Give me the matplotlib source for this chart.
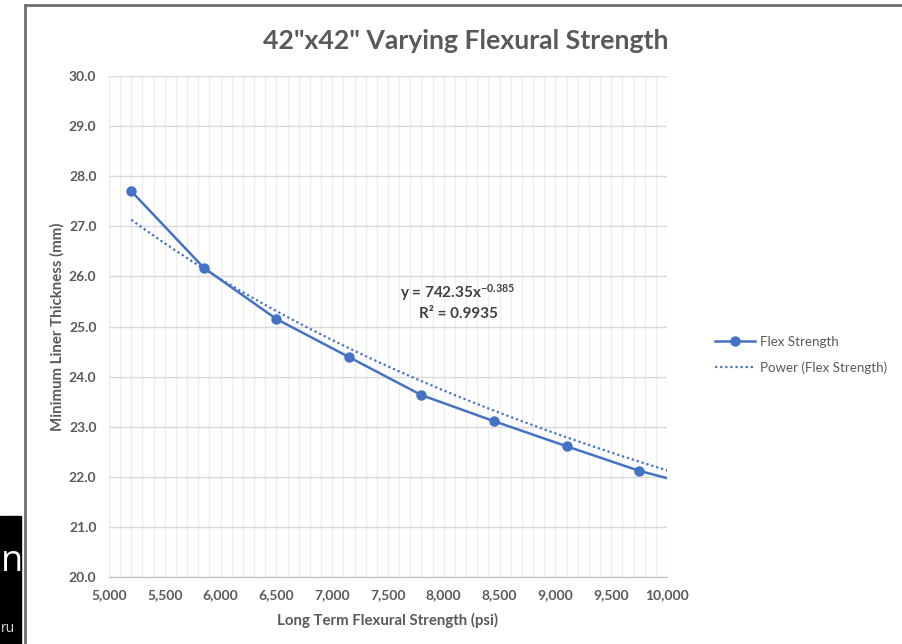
import matplotlib.pyplot as plt
import numpy as np
from matplotlib.patches import Rectangle
from matplotlib.lines import Line2D
from matplotlib.ticker import MultipleLocator, FuncFormatter

plt.rcParams['font.family'] = ['Lato', 'DejaVu Sans']
plt.rcParams['mathtext.fontset'] = 'custom'
plt.rcParams['mathtext.rm'] = 'Lato:bold'
plt.rcParams['mathtext.it'] = 'Lato:bold'
plt.rcParams['mathtext.bf'] = 'Lato:bold'

# data
strength = [5200, 5850, 6500, 7150, 7800, 8450, 9100, 9750, 10400]
thickness = [27.70, 26.17, 25.15, 24.39, 23.63, 23.11, 22.61, 22.12, 21.74]
# dotted trendline as drawn in the chart, read at the same x positions
trend_read = [27.13, 26.20, 25.31, 24.55, 23.87, 23.29, 22.77, 22.32, 21.90]
eq_text = 'y = 742.35x$^{-0.385}$'
r2_text = 'R² = 0.9935'

blue = '#4472c4'
grey_txt = '#595959'

fig = plt.figure(figsize=(9.03, 6.44), dpi=100)
ax = fig.add_axes([109 / 903, 1 - 577 / 644, 558 / 903, 501 / 644])

ax.plot(strength, thickness, color=blue, lw=1.8, marker='o', ms=6.5,
        label='Flex Strength', zorder=3)

# smooth power curve through the read trendline values
b, a = np.polyfit(np.log(strength), np.log(trend_read), 1)
xs = np.linspace(strength[0], strength[-1], 200)
ax.plot(xs, np.exp(a) * xs ** b, color=blue, lw=1.6, ls=(0, (1, 1.3)),
        label='Power (Flex Strength)', zorder=2)

ax.set_xlim(5000, 10000)
ax.set_ylim(20, 30)
ax.xaxis.set_major_locator(MultipleLocator(500))
ax.xaxis.set_minor_locator(MultipleLocator(100))
ax.yaxis.set_major_locator(MultipleLocator(1))
ax.xaxis.set_major_formatter(FuncFormatter(lambda v, p: f'{v:,.0f}'))
ax.yaxis.set_major_formatter(FuncFormatter(lambda v, p: f'{v:.1f}'))

ax.grid(which='major', axis='y', color='#d9d9d9', lw=1)
ax.grid(which='both', axis='x', color='#eeeeee', lw=1)
ax.set_axisbelow(True)
for s in ['top', 'right', 'left']:
    ax.spines[s].set_visible(False)
ax.spines['bottom'].set_color('#bfbfbf')
ax.tick_params(which='both', length=0)
ax.tick_params(axis='x', pad=9)
ax.tick_params(axis='y', pad=9)
for lab in ax.get_xticklabels() + ax.get_yticklabels():
    lab.set_fontweight('bold')
    lab.set_color(grey_txt)
    lab.set_fontsize(10)

ax.set_xlabel('Long Term Flexural Strength (psi)', fontsize=10.8, fontweight='bold',
              color=grey_txt, labelpad=8)
ax.set_ylabel('Minimum Liner Thickness (mm)', fontsize=10.8, fontweight='bold',
              color=grey_txt, labelpad=3)

ax.text(8127, 25.68, eq_text, ha='center', va='center', fontsize=11,
        fontweight='bold', color='#404040')
ax.text(8127, 25.25, r2_text, ha='center', va='center', fontsize=11,
        fontweight='bold', color='#404040')

fig.text(0.516, 0.937, '42"x42" Varying Flexural Strength', ha='center', va='center',
         fontsize=19.2, fontweight='bold', color=grey_txt)

handles, labels = ax.get_legend_handles_labels()
fig.legend(handles, labels, loc='upper left', bbox_to_anchor=(703 / 903, 1 - 324 / 644),
           frameon=False, fontsize=9.6, handlelength=3.0, labelspacing=1.0,
           handletextpad=0.4, labelcolor=grey_txt)

# screenshot border and the dark overlay on the left
fig.add_artist(Line2D([25 / 903, 25 / 903], [0, 1 - 5 / 644], color='#707070', lw=2))
fig.add_artist(Line2D([25 / 903, 1], [1 - 5 / 644, 1 - 5 / 644], color='#707070', lw=2))
fig.add_artist(Rectangle((0, 0), 21 / 903, 128 / 644, color='black'))
fig.text(0.5 / 903, 1 - 562 / 644, 'n', color='white', fontsize=26, va='center', ha='left',
         family='Open Sans')
fig.text(1 / 903, 1 - 628 / 644, 'ru', color='#dddddd', fontsize=10, va='center', ha='left',
         family='Open Sans')

fig.savefig('out.png', dpi=100)
